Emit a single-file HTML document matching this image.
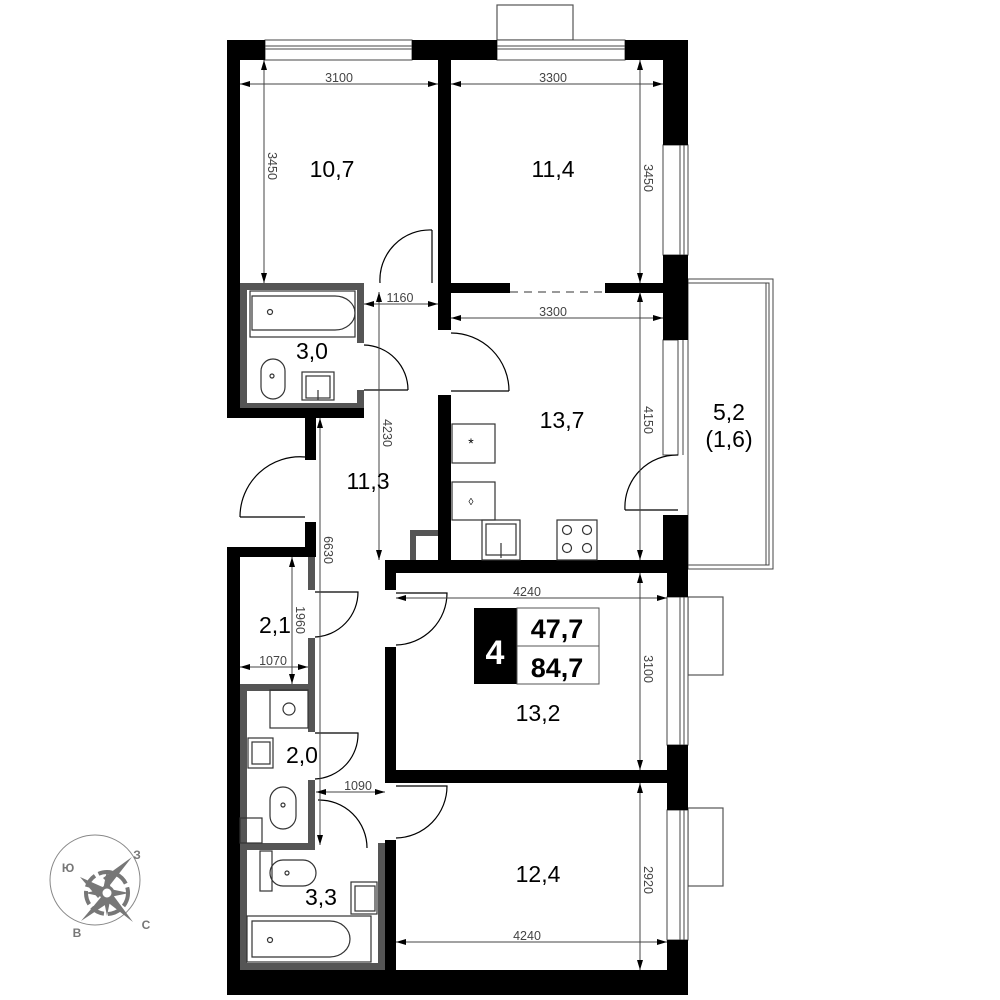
<!DOCTYPE html>
<html><head><meta charset="utf-8"><style>
html,body{margin:0;padding:0;background:#fff;}
svg{display:block;font-family:"Liberation Sans","DejaVu Sans",sans-serif;}
</style></head><body>
<svg width="1000" height="1000" viewBox="0 0 1000 1000" xmlns="http://www.w3.org/2000/svg">
<defs>
<marker id="a" viewBox="0 0 10 6" refX="10" refY="3" markerWidth="10" markerHeight="6" orient="auto-start-reverse" markerUnits="userSpaceOnUse"><path d="M0,0L10,3L0,6z" fill="#000"/></marker>
</defs>
<rect width="1000" height="1000" fill="#fff"/>

<rect x="497" y="5" width="76" height="35" fill="#fff" stroke="#555" stroke-width="1.2"/>
<rect x="688" y="597" width="35" height="78" fill="#fff" stroke="#555" stroke-width="1.2"/>
<rect x="688" y="808" width="35" height="78" fill="#fff" stroke="#555" stroke-width="1.2"/>

<g fill="#fff" stroke="#444" stroke-width="1">
<rect x="265" y="40" width="147" height="20"/><line x1="265" y1="46" x2="412" y2="46"/><line x1="265" y1="49" x2="412" y2="49"/>
<rect x="497" y="40" width="128" height="20"/><line x1="497" y1="46" x2="625" y2="46"/><line x1="497" y1="49" x2="625" y2="49"/>
<rect x="663" y="145" width="25" height="110"/><line x1="680" y1="145" x2="680" y2="255"/><line x1="684" y1="145" x2="684" y2="255"/>
<rect x="663" y="340" width="15" height="115"/><line x1="678" y1="340" x2="678" y2="455"/><line x1="683" y1="340" x2="683" y2="455"/>
<rect x="667" y="597" width="21" height="148"/><line x1="680" y1="597" x2="680" y2="745"/><line x1="684" y1="597" x2="684" y2="745"/>
<rect x="667" y="810" width="21" height="130"/><line x1="680" y1="810" x2="680" y2="940"/><line x1="684" y1="810" x2="684" y2="940"/>
</g>

<g fill="none" stroke="#444" stroke-width="1">
<rect x="688" y="279" width="85" height="290"/>
<rect x="688" y="283" width="81" height="282"/>
<line x1="766" y1="283" x2="766" y2="565"/>
</g>

<g fill="#000">
<rect x="227" y="40" width="38" height="20"/>
<rect x="412" y="40" width="85" height="20"/>
<rect x="625" y="40" width="63" height="20"/>
<rect x="227" y="40" width="13" height="370"/>
<rect x="227" y="405" width="137" height="13"/>
<rect x="663" y="40" width="25" height="105"/>
<rect x="663" y="255" width="25" height="85"/>
<rect x="663" y="515" width="25" height="52"/>
<rect x="667" y="565" width="21" height="32"/>
<rect x="667" y="745" width="21" height="65"/>
<rect x="667" y="940" width="21" height="55"/>
<rect x="438" y="60" width="13" height="270"/>
<rect x="438" y="395" width="13" height="165"/>
<rect x="451" y="283" width="59" height="10"/>
<rect x="605" y="283" width="63" height="10"/>
<rect x="305" y="418" width="11" height="42"/>
<rect x="305" y="522" width="11" height="25"/>
<rect x="227" y="547" width="89" height="10"/>
<rect x="227" y="547" width="13" height="448"/>
<rect x="227" y="970" width="461" height="25"/>
<rect x="385" y="560" width="283" height="13"/>
<rect x="385" y="560" width="11" height="30"/>
<rect x="385" y="647" width="11" height="136"/>
<rect x="385" y="770" width="283" height="13"/>
<rect x="385" y="840" width="11" height="130"/>
</g>
<line x1="510" y1="292" x2="605" y2="292" stroke="#333" stroke-dasharray="8,6" stroke-width="1"/>

<g fill="#555">
<rect x="240" y="283" width="124" height="7"/>
<rect x="240" y="283" width="7" height="125"/>
<rect x="357" y="283" width="7" height="60"/>
<rect x="357" y="390" width="7" height="18"/>
<rect x="240" y="403" width="124" height="5"/>
<rect x="308" y="557" width="7" height="33"/>
<rect x="308" y="638" width="7" height="94"/>
<rect x="240" y="684" width="75" height="7"/>
<rect x="240" y="684" width="7" height="160"/>
<rect x="308" y="780" width="7" height="65"/>
<rect x="240" y="843" width="75" height="7"/>
<rect x="240" y="843" width="7" height="127"/>
<rect x="378" y="843" width="7" height="127"/>
<rect x="240" y="963" width="145" height="7"/>
<rect x="410" y="530" width="28" height="6"/><rect x="410" y="530" width="6" height="30"/>
</g>

<g fill="none" stroke="#333" stroke-width="1.2">
<rect x="250" y="291" width="105" height="46"/>
<path d="M252,296 H335 A20,17 0 0 1 335,330 H252 Z"/>
<circle cx="270" cy="312" r="2.5"/>
<rect x="261" y="359" width="24" height="40" rx="12"/>
<circle cx="272" cy="376" r="2"/>
<rect x="302" y="372" width="32" height="28"/>
<rect x="306" y="376" width="24" height="22"/>
<line x1="318" y1="390" x2="318" y2="400"/>
<rect x="452" y="424" width="43" height="39"/>
<rect x="452" y="482" width="43" height="38"/>
<rect x="482" y="520" width="38" height="40"/>
<rect x="486" y="524" width="30" height="31"/>
<line x1="501" y1="543" x2="501" y2="558"/>
<rect x="557" y="520" width="40" height="40"/>
<circle cx="567" cy="530" r="4.5"/><circle cx="587" cy="530" r="4.5"/><circle cx="567" cy="548" r="4.5"/><circle cx="587" cy="548" r="4.5"/>
<rect x="270" y="690" width="38" height="38"/>
<circle cx="289" cy="709" r="6"/>
<rect x="248" y="738" width="25" height="30"/>
<rect x="252" y="742" width="18" height="22"/>
<rect x="270" y="787" width="26" height="42" rx="13"/><circle cx="283" cy="805" r="2"/>
<rect x="240" y="818" width="22" height="25"/>
<rect x="270" y="860" width="46" height="26" rx="13"/><circle cx="287" cy="873" r="2"/>
<rect x="260" y="851" width="12" height="40"/>
<rect x="351" y="882" width="26" height="32"/>
<rect x="355" y="886" width="20" height="25"/>
<rect x="247" y="916" width="124" height="46"/>
<path d="M252,921 H330 A20,18 0 0 1 330,957 H252 Z"/>
<circle cx="270" cy="940" r="2.5"/>
</g>
<text x="471" y="448" font-size="14" text-anchor="middle">*</text>
<text x="471" y="505" font-size="10" text-anchor="middle">◊</text>

<g fill="none" stroke="#000" stroke-width="1.2">
<path d="M432,230 A50,50 0 0 0 380,283"/><line x1="432" y1="230" x2="432" y2="283"/>
<path d="M364,345 A45,45 0 0 1 408,390"/><line x1="364" y1="390" x2="408" y2="390"/>
<path d="M451,333 A58,58 0 0 1 509,391"/><line x1="451" y1="391" x2="509" y2="391"/>
<path d="M305,457 A60,60 0 0 0 240,517"/><line x1="240" y1="517" x2="305" y2="517"/>
<path d="M315,592 H358 A45,45 0 0 1 315,637"/>
<path d="M396,593 H447 A52,52 0 0 1 396,645"/>
<path d="M315,733 H358 A45,45 0 0 1 315,779"/>
<path d="M318,800 A48,48 0 0 1 367,848"/>
<path d="M396,786 H447 A52,52 0 0 1 396,838"/>
<path d="M678,455 A52,52 0 0 0 625,510"/><line x1="625" y1="510" x2="678" y2="510"/>
</g>

<g stroke="#444" stroke-width="1" fill="none" marker-start="url(#a)" marker-end="url(#a)">
<line x1="240" y1="84" x2="438" y2="84"/>
<line x1="451" y1="84" x2="663" y2="84"/>
<line x1="264" y1="60" x2="264" y2="283"/>
<line x1="640" y1="60" x2="640" y2="283"/>
<line x1="364" y1="304" x2="438" y2="304"/>
<line x1="451" y1="318" x2="663" y2="318"/>
<line x1="379" y1="292" x2="379" y2="560"/>
<line x1="640" y1="292" x2="640" y2="560"/>
<line x1="320" y1="418" x2="320" y2="845"/>
<line x1="396" y1="598" x2="667" y2="598"/>
<line x1="640" y1="573" x2="640" y2="770"/>
<line x1="292" y1="557" x2="292" y2="684"/>
<line x1="240" y1="667" x2="308" y2="667"/>
<line x1="316" y1="792" x2="385" y2="792"/>
<line x1="640" y1="783" x2="640" y2="970"/>
<line x1="396" y1="942" x2="667" y2="942"/>
</g>

<g font-size="12.5" fill="#444">
<text x="339" y="82" text-anchor="middle">3100</text>
<text x="553" y="82" text-anchor="middle">3300</text>
<text x="400" y="302" text-anchor="middle">1160</text>
<text x="553" y="316" text-anchor="middle">3300</text>
<text x="527" y="596" text-anchor="middle">4240</text>
<text x="273" y="665" text-anchor="middle">1070</text>
<text x="358" y="790" text-anchor="middle">1090</text>
<text x="527" y="940" text-anchor="middle">4240</text>
<text transform="translate(268,166) rotate(90)" text-anchor="middle">3450</text>
<text transform="translate(644,178) rotate(90)" text-anchor="middle">3450</text>
<text transform="translate(383,433) rotate(90)" text-anchor="middle">4230</text>
<text transform="translate(644,420) rotate(90)" text-anchor="middle">4150</text>
<text transform="translate(324,550) rotate(90)" text-anchor="middle">6630</text>
<text transform="translate(296,620) rotate(90)" text-anchor="middle">1960</text>
<text transform="translate(644,669) rotate(90)" text-anchor="middle">3100</text>
<text transform="translate(644,880) rotate(90)" text-anchor="middle">2920</text>
</g>

<g font-size="23" fill="#000" text-anchor="middle">
<text x="332" y="177">10,7</text>
<text x="553" y="177">11,4</text>
<text x="312" y="359">3,0</text>
<text x="562" y="428">13,7</text>
<text x="368" y="489">11,3</text>
<text x="729" y="420">5,2</text>
<text x="729" y="447">(1,6)</text>
<text x="275" y="633">2,1</text>
<text x="302" y="763">2,0</text>
<text x="538" y="721">13,2</text>
<text x="321" y="905">3,3</text>
<text x="538" y="882">12,4</text>
</g>

<rect x="474" y="608" width="43" height="76" fill="#000"/>
<rect x="517" y="608" width="82" height="76" fill="#fff" stroke="#555" stroke-width="1"/>
<line x1="517" y1="646" x2="599" y2="646" stroke="#555"/>
<text x="495" y="664" font-size="34" fill="#fff" text-anchor="middle" font-weight="bold">4</text>
<text x="557" y="638" font-size="27" font-weight="bold" text-anchor="middle">47,7</text>
<text x="557" y="677" font-size="27" font-weight="bold" text-anchor="middle">84,7</text>

<circle cx="95" cy="880" r="45" fill="#fff" stroke="#888" stroke-width="1"/>
<circle cx="107" cy="893" r="21" fill="none" stroke="#777" stroke-width="4" stroke-dasharray="14,4"/>
<g fill="#777">
<polygon points="80,877 107,889 98,898"/>
<polygon points="132,857 110,885 103,878"/>
<polygon points="133,922 106,901 113,895"/>
<polygon points="81,921 102,896 108,903"/>
<polygon points="107,870 111,890 103,890"/>
<polygon points="107,916 103,896 111,896"/>
<polygon points="85,893 104,889 104,897"/>
<polygon points="129,893 110,897 110,889"/>
</g>
<circle cx="107" cy="893" r="6" fill="#fff" stroke="#777" stroke-width="3"/>
<g font-size="12" font-weight="bold" fill="#777" text-anchor="middle">
<text x="68" y="872">Ю</text>
<text x="137" y="859">З</text>
<text x="146" y="929">С</text>
<text x="77" y="937">В</text>
</g>
</svg>
</body></html>
